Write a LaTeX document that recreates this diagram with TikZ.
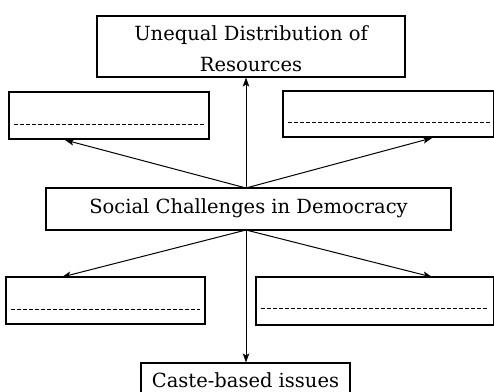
\documentclass[tikz,border=0pt]{standalone}
\usepackage{fontspec}
\setmainfont{DejaVu Serif}
\usetikzlibrary{arrows.meta}
\begin{document}
\begin{tikzpicture}[x=1pt,y=-1pt,
  box/.style={draw,line width=1.1pt,inner sep=0pt},
  conn/.style={line width=1pt,-{Stealth[length=9pt,width=6.5pt,inset=2pt]}},
  dashln/.style={line width=0.8pt,dash pattern=on 3.5pt off 2.5pt},
  lbl/.style={font=\fontsize{19.5}{24}\selectfont,align=center}]
\useasboundingbox (0,0) rectangle (494,391);
% boxes
\node[box,minimum width=308pt,minimum height=61pt] (top) at (251,46.5) {};
\node[lbl] (toptext) at (251,49) {Unequal Distribution of\\[7pt]Resources};
\node[box,minimum width=200pt,minimum height=47pt] (ul) at (109,115.5) {};
\node[box,minimum width=211pt,minimum height=46pt] (ur) at (388.5,114) {};
\node[box,minimum width=405pt,minimum height=42pt] (soc) at (248.5,209) {};
\node[lbl] (soctext) at (248.5,208) {Social Challenges in Democracy};
\node[box,minimum width=199pt,minimum height=47pt] (ll) at (105.5,300.5) {};
\node[box,minimum width=238pt,minimum height=48pt] (lr) at (375,301) {};
\node[box,minimum width=209pt,minimum height=36pt] (caste) at (245.5,381) {};
\node[lbl] (castetext) at (245.5,380) {Caste-based issues};
% dashed lines
\draw[dashln] ([xshift=6pt,yshift=15pt]ul.south west) -- ([xshift=-6pt,yshift=15pt]ul.south east);
\draw[dashln] ([xshift=6pt,yshift=15pt]ur.south west) -- ([xshift=-4pt,yshift=15pt]ur.south east);
\draw[dashln] ([xshift=6pt,yshift=15pt]ll.south west) -- ([xshift=-6pt,yshift=15pt]ll.south east);
\draw[dashln] ([xshift=6pt,yshift=17pt]lr.south west) -- ([xshift=-6pt,yshift=17pt]lr.south east);
% connectors
\coordinate (st) at (246,188);
\coordinate (sb) at (246,230);
\coordinate (ulp) at (65,140);
\coordinate (urp) at (432,138);
\coordinate (llp) at (62,277);
\coordinate (lrp) at (432,277);
\draw[conn] (st) -- (top.south -| st);
\draw[conn] (st) -- (ulp);
\draw[conn] (st) -- (urp);
\draw[conn] (sb) -- (llp);
\draw[conn] (sb) -- (lrp);
\draw[conn] (sb) -- (caste.north -| sb);
\end{tikzpicture}
\end{document}
